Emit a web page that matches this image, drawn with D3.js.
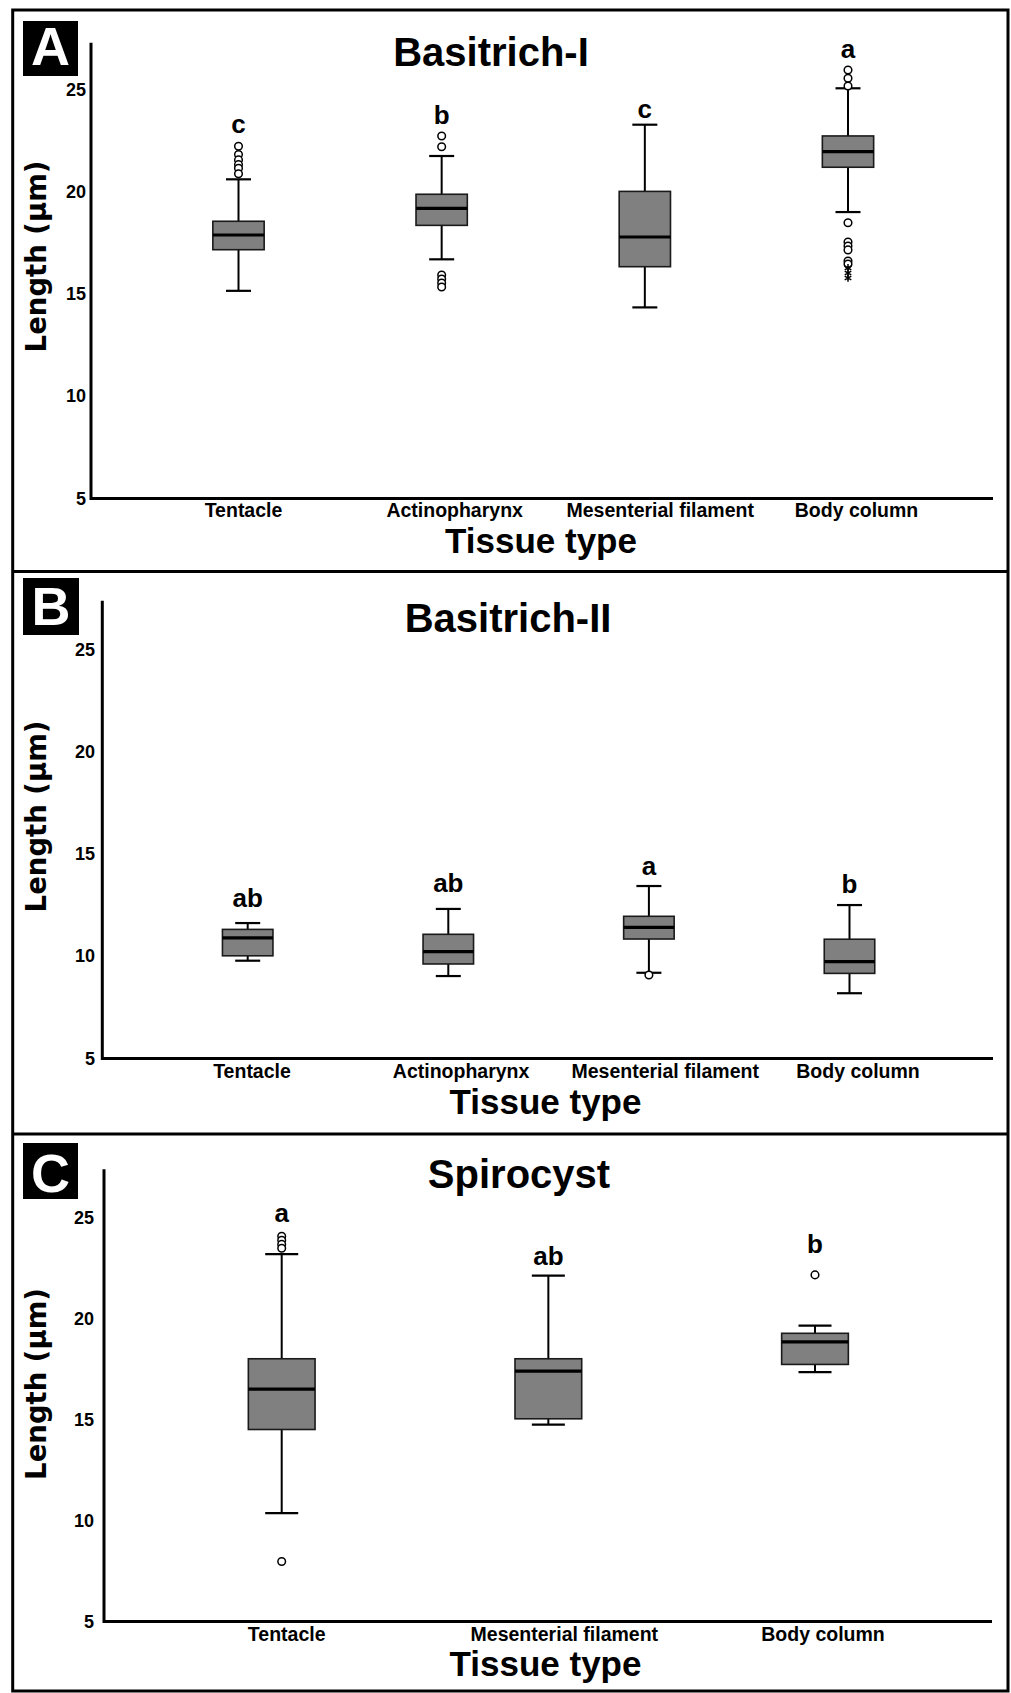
<!DOCTYPE html>
<html><head><meta charset="utf-8">
<script src="https://cdn.jsdelivr.net/npm/d3@7"></script>
<style>
html,body{margin:0;padding:0;background:#fff;}
svg{display:block;}
text{font-family:"Liberation Sans",Arial,sans-serif;font-weight:bold;fill:#000;}
</style></head>
<body>
<svg id="chart" width="1011" height="1693"></svg>
<script>
// ---------- DATA ----------
const panelLetters = ["A", "B", "C"];
const panelTitles = ["Basitrich-I", "Basitrich-II", "Spirocyst"];
const yTickValues = [5, 10, 15, 20, 25];
const yAxisTitle = "Length (µm)";
const xAxisTitle = "Tissue type";

// Panel A: Basitrich-I
const basI_categories = ["Tentacle", "Actinopharynx", "Mesenterial filament", "Body column"];
const basI_low    = [15.15, 16.69, 14.34, 19.00];
const basI_q1     = [17.16, 18.35, 16.33, 21.19];
const basI_median = [17.88, 19.18, 17.78, 21.95];
const basI_q3     = [18.55, 19.87, 20.01, 22.72];
const basI_high   = [20.60, 21.74, 23.27, 25.05];
const basI_outliers = [
  [22.22, 21.81, 21.55, 21.32, 21.14, 20.87],
  [22.72, 22.19, 15.92, 15.73, 15.53, 15.34],
  [],
  [25.94, 25.54, 25.16, 18.48, 17.54, 17.34, 17.15, 16.61, 16.46]
];
const basI_extremes = [[], [], [], [16.27, 16.02, 15.78]];
const basI_letters = ["c", "b", "c", "a"];

// Panel B: Basitrich-II
const basII_categories = ["Tentacle", "Actinopharynx", "Mesenterial filament", "Body column"];
const basII_low    = [9.78, 9.03, 9.19, 8.19];
const basII_q1     = [10.02, 9.62, 10.84, 9.16];
const basII_median = [10.90, 10.22, 11.41, 9.73];
const basII_q3     = [11.31, 11.07, 11.95, 10.83];
const basII_high   = [11.62, 12.31, 13.43, 12.50];
const basII_outliers = [[], [], [9.08], []];
const basII_extremes = [[], [], [], []];
const basII_letters = ["ab", "ab", "a", "b"];

// Panel C: Spirocyst
const spiro_categories = ["Tentacle", "Mesenterial filament", "Body column"];
const spiro_low    = [10.36, 14.74, 17.34];
const spiro_q1     = [14.50, 15.03, 17.72];
const spiro_median = [16.50, 17.39, 18.84];
const spiro_q3     = [18.00, 18.00, 19.26];
const spiro_high   = [23.18, 22.11, 19.64];
const spiro_outliers = [[24.06, 23.86, 23.66, 23.47, 7.97], [], [22.15]];
const spiro_extremes = [[], [], []];
const spiro_letters = ["a", "ab", "b"];

// ---------- LAYOUT ----------
const panels = [
  { letter: panelLetters[0], title: panelTitles[0], cats: basI_categories,
    low: basI_low, q1: basI_q1, med: basI_median, q3: basI_q3, high: basI_high,
    out: basI_outliers, ext: basI_extremes, sig: basI_letters,
    frameTop: 10, frameBottom: 571.5,
    axisX: 91, axisTop: 42.7, y5: 498.5, y25: 89.3, axisRight: 993,
    xRange: [238.5, 848], boxW: 51.3, capW: 25,
    tickRight: 86, labelShift: [5, 13, 15.4, 8.5], catBase: 517,
    sigGap: [13.4, 12, 7, 11.7],
    titleX: 491, titleBase: 66, xtX: 541, xtBase: 552.5, ytY: 256.5,
    boxL: [23, 21, 55, 55], letterBase: 65 },
  { letter: panelLetters[1], title: panelTitles[1], cats: basII_categories,
    low: basII_low, q1: basII_q1, med: basII_median, q3: basII_q3, high: basII_high,
    out: basII_outliers, ext: basII_extremes, sig: basII_letters,
    frameTop: 571.5, frameBottom: 1134,
    axisX: 102.3, axisTop: 600.7, y5: 1058.5, y25: 649.3, axisRight: 993,
    xRange: [247.7, 849.5], boxW: 50.5, capW: 25,
    tickRight: 95, labelShift: [4.3, 12.8, 16.3, 8.5], catBase: 1078,
    sigGap: [15.7, 17.3, 11, 12.3],
    titleX: 508, titleBase: 632, xtX: 545.5, xtBase: 1113.5, ytY: 816.5,
    boxL: [23, 578, 56, 57], letterBase: 625 },
  { letter: panelLetters[2], title: panelTitles[2], cats: spiro_categories,
    low: spiro_low, q1: spiro_q1, med: spiro_median, q3: spiro_q3, high: spiro_high,
    out: spiro_outliers, ext: spiro_extremes, sig: spiro_letters,
    frameTop: 1134, frameBottom: 1691,
    axisX: 104, axisTop: 1169.3, y5: 1621.5, y25: 1217.3, axisRight: 992,
    xRange: [281.7, 815], boxW: 66.7, capW: 33,
    tickRight: 94, labelShift: [5, 16, 8], catBase: 1641,
    sigGap: [14.3, 11, 21.5],
    titleX: 519, titleBase: 1188, xtX: 545.5, xtBase: 1676, ytY: 1384,
    boxL: [23, 1143, 55, 56], letterBase: 1192 }
];

const svg = d3.select("#chart");
const frameL = 12.7, frameR = 1008;

// outer frame
svg.append("rect").attr("x", frameL).attr("y", 10)
  .attr("width", frameR - frameL).attr("height", 1691 - 10)
  .attr("fill", "none").attr("stroke", "#000").attr("stroke-width", 3);

panels.forEach((p, pi) => {
  const g = svg.append("g");
  if (pi > 0) {
    g.append("line").attr("x1", frameL).attr("x2", frameR)
      .attr("y1", p.frameTop).attr("y2", p.frameTop)
      .attr("stroke", "#000").attr("stroke-width", 3);
  }
  const y = d3.scaleLinear().domain([5, 25]).range([p.y5, p.y25]);
  const x = d3.scalePoint().domain(p.cats).range(p.xRange);

  // letter box
  g.append("rect").attr("x", p.boxL[0]).attr("y", p.boxL[1])
    .attr("width", p.boxL[2]).attr("height", p.boxL[3]).attr("fill", "#000");
  g.append("text").attr("x", p.boxL[0] + p.boxL[2] / 2).attr("y", p.letterBase)
    .attr("text-anchor", "middle").style("font-size", "54px").style("fill", "#fff")
    .text(p.letter);

  // title
  g.append("text").attr("x", p.titleX).attr("y", p.titleBase)
    .attr("text-anchor", "middle").style("font-size", "40px").text(p.title);

  // y axis (line + labels, no ticks)
  const yAx = d3.axisLeft(y).tickValues(yTickValues).tickSize(0).tickPadding(p.axisX - p.tickRight)
    .tickFormat(d3.format("d"));
  const ga = g.append("g").attr("transform", `translate(${p.axisX},0)`).call(yAx);
  ga.select(".domain").remove();
  ga.selectAll("text").style("font-size", "18px").style("font-family", '"Liberation Sans",Arial,sans-serif')
    .style("font-weight", "bold").attr("fill", "#000");
  g.append("path")
    .attr("d", `M${p.axisX},${p.axisTop}V${y(5)}H${p.axisRight}`)
    .attr("fill", "none").attr("stroke", "#000").attr("stroke-width", 3);

  // x category labels
  g.selectAll(".cat").data(p.cats).join("text")
    .attr("x", (d, i) => x(d) + p.labelShift[i]).attr("y", p.catBase)
    .attr("text-anchor", "middle").style("font-size", "19.5px").text(d => d);

  // axis titles
  g.append("text").attr("x", p.xtX).attr("y", p.xtBase).attr("text-anchor", "middle")
    .style("font-size", "35px").text(xAxisTitle);
  g.append("text").attr("transform", `translate(45.5,${p.ytY}) rotate(-90)`)
    .attr("text-anchor", "middle")
    .style("font-family", '"DejaVu Sans",sans-serif').style("font-size", "27.5px")
    .text(yAxisTitle);

  // boxes
  p.cats.forEach((c, i) => {
    const cx = x(c);
    const bg = g.append("g");
    // whiskers
    bg.append("line").attr("x1", cx).attr("x2", cx).attr("y1", y(p.high[i])).attr("y2", y(p.q3[i]))
      .attr("stroke", "#000").attr("stroke-width", 2);
    bg.append("line").attr("x1", cx).attr("x2", cx).attr("y1", y(p.q1[i])).attr("y2", y(p.low[i]))
      .attr("stroke", "#000").attr("stroke-width", 2);
    [p.high[i], p.low[i]].forEach(v => {
      bg.append("line").attr("x1", cx - p.capW / 2).attr("x2", cx + p.capW / 2)
        .attr("y1", y(v)).attr("y2", y(v)).attr("stroke", "#000").attr("stroke-width", 2.2);
    });
    // box
    bg.append("rect").attr("x", cx - p.boxW / 2).attr("y", y(p.q3[i]))
      .attr("width", p.boxW).attr("height", y(p.q1[i]) - y(p.q3[i]))
      .attr("fill", "#808080").attr("stroke", "#1a1a1a").attr("stroke-width", 1.6);
    bg.append("line").attr("x1", cx - p.boxW / 2).attr("x2", cx + p.boxW / 2)
      .attr("y1", y(p.med[i])).attr("y2", y(p.med[i])).attr("stroke", "#000").attr("stroke-width", 3.2);
    // outliers
    bg.selectAll(".o").data(p.out[i]).join("circle")
      .attr("cx", cx).attr("cy", v => y(v)).attr("r", 3.8)
      .attr("fill", "#fff").attr("stroke", "#000").attr("stroke-width", 1.5);
    bg.selectAll(".e").data(p.ext[i]).join("path")
      .attr("transform", v => `translate(${cx},${y(v)})`)
      .attr("d", d3.symbol(d3.symbolAsterisk, 40)())
      .attr("fill", "none").attr("stroke", "#000").attr("stroke-width", 1.5);
    // significance letter
    const topV = d3.max([p.high[i], ...p.out[i]]);
    bg.append("text").attr("x", cx).attr("y", y(topV) - p.sigGap[i])
      .attr("text-anchor", "middle").style("font-size", "26px").text(p.sig[i]);
  });
});
</script>
</body></html>
